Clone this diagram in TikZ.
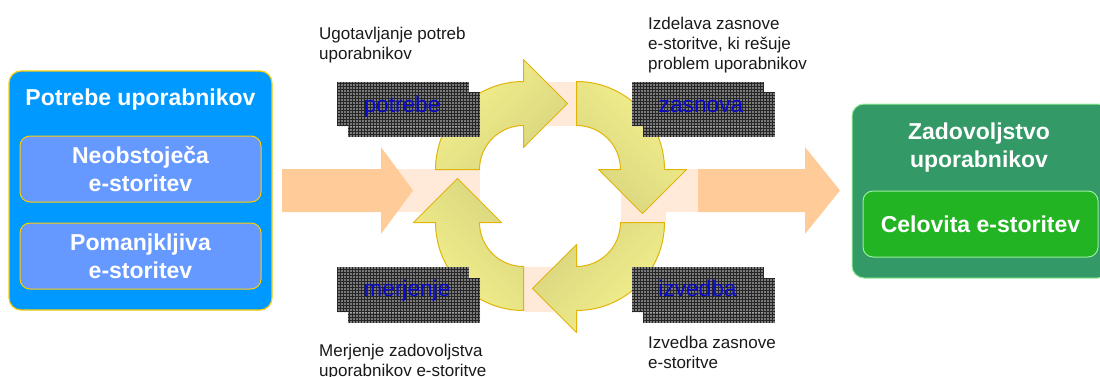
\documentclass[tikz,border=0pt]{standalone}
\usepackage{fontspec}
\setmainfont{Liberation Sans}
\usetikzlibrary{patterns.meta}
\definecolor{bluebox}{HTML}{0099FF}
\definecolor{blueinner}{HTML}{6699FF}
\definecolor{goldline}{HTML}{FFCC00}
\definecolor{greenbox}{HTML}{339966}
\definecolor{greeninner}{HTML}{22B422}
\definecolor{greenline}{HTML}{99EE99}
\definecolor{orangearr}{HTML}{FFCC99}
\definecolor{peach}{HTML}{FFE9D8}
\definecolor{ylight}{HTML}{F5F28E}
\definecolor{ydark}{HTML}{D8D47E}
\definecolor{yline}{HTML}{E2B40A}
\definecolor{lblblue}{HTML}{0A0ACC}
\definecolor{lgray}{HTML}{262626}
\definecolor{ldot}{HTML}{D0D0D0}
\tikzset{
  bigfont/.style={font=\fontsize{23}{27.7}\selectfont\bfseries},
  outerblue/.style={draw=goldline, line width=1.2pt, fill=bluebox, rounded corners=12pt, inner sep=0pt},
  innerblue/.style={draw=goldline, line width=1pt, fill=blueinner, rounded corners=10pt, inner sep=0pt,
    minimum width=241pt, minimum height=66pt, text=white, bigfont, align=center},
  outergreen/.style={draw=greenline, line width=1pt, fill=greenbox, rounded corners=12pt, inner sep=0pt},
  innergreen/.style={draw=greenline, line width=1pt, fill=greeninner, rounded corners=10pt, inner sep=0pt,
    minimum width=235pt, minimum height=66pt, text=white, bigfont, align=center},
  titletext/.style={text=white, bigfont, align=center, inner sep=0pt},
  blockarrow/.style={fill=orangearr, draw=none},
  gap/.style={fill=peach, draw=none},
  cyc/.style={draw=yline, line width=1pt, line join=round},
  lblbox/.style={fill=lgray, draw=none,
    postaction={pattern={Dots[distance=3pt,radius=0.95pt]}, pattern color=ldot}},
  lbltext/.style={text=lblblue, font=\fontsize{22.7}{26}\selectfont, inner sep=0pt, anchor=base},
  desc/.style={font=\fontsize{17}{20}\selectfont, align=left, inner sep=0pt, anchor=north west, text=black!90}
}
\begin{document}
\begin{tikzpicture}[x=1pt,y=1pt]
\useasboundingbox (0,0) rectangle (1100,376);
\clip (0,0) rectangle (1100,376);

% left block
\node[outerblue, minimum width=263pt, minimum height=239pt] (need) at (140.5,185.5) {};
\node[titletext, anchor=base] (needtitle) at (140.5,270.5) {Potrebe uporabnikov};
\node[innerblue] (none) at (140.5,207) {Neobstoječa\\e-storitev};
\node[innerblue] (poor) at (140.5,120) {Pomanjkljiva\\e-storitev};

% right block
\node[outergreen, minimum width=258pt, minimum height=174pt] (sat) at (981,185) {};
\node[titletext] (sattitle) at (979,228.4) {Zadovoljstvo\\uporabnikov};
\node[innergreen] (full) at (980.5,152) {Celovita e-storitev};

% peach gap fillers
\fill[gap] (381,164) rectangle (480,207);
\fill[gap] (621,164) rectangle (698,207);
\fill[gap] (621,154) rectangle (666,207);
\fill[gap] (547,250) rectangle (576,294);
\fill[gap] (524,64) rectangle (553,109);

% orange block arrows
\fill[blockarrow] (282,164) -- (381,164) -- (381,142) -- (413,185.5) -- (381,229) -- (381,207) -- (282,207) -- cycle;
\fill[blockarrow] (698,164) -- (805,164) -- (805,142) -- (840,185.5) -- (805,229) -- (805,207) -- (698,207) -- cycle;

% cycle arrows
\begin{scope}[shift={(550,180)}]
\foreach \r/\a in {0/45,-90/-45,-180/-135,90/135}{
  \path[cyc, rotate=\r, top color=ylight, bottom color=ydark, shading angle=\a, draw=yline]
    (-114.5,26.5) arc[start angle=180,end angle=90,radius=88]
    -- (-26.5,136.5) -- (17.5,92.5) -- (-26.5,48.5) -- (-26.5,70.5)
    arc[start angle=90,end angle=180,radius=44] -- cycle;
}
\end{scope}

% label boxes
\path[lblbox] (348,239) rectangle (480,284);
\path[lblbox] (337,250) rectangle (469,294);
\path[lblbox] (643,239) rectangle (775,284);
\path[lblbox] (632,250) rectangle (764,294);
\path[lblbox] (348,53) rectangle (480,98);
\path[lblbox] (337,64) rectangle (469,109);
\path[lblbox] (643,53) rectangle (775,98);
\path[lblbox] (632,64) rectangle (764,109);
\node[lbltext] (lpotrebe) at (402,263.5) {potrebe};
\node[lbltext] (lzasnova) at (701,263.5) {zasnova};
\node[lbltext] (lmerjenje) at (407,79.3) {merjenje};
\node[lbltext] (lizvedba) at (697.5,79.3) {izvedba};

% descriptions
\node[desc] (d1) at (319,349.3) {Ugotavljanje potreb\\uporabnikov};
\node[desc] (d2) at (648,359.3) {Izdelava zasnove\\e-storitve, ki rešuje\\problem uporabnikov};
\node[desc] (d3) at (319,32.5) {Merjenje zadovoljstva\\uporabnikov e-storitve};
\node[desc] (d4) at (648,40) {Izvedba zasnove\\e-storitve};
\end{tikzpicture}
\end{document}
